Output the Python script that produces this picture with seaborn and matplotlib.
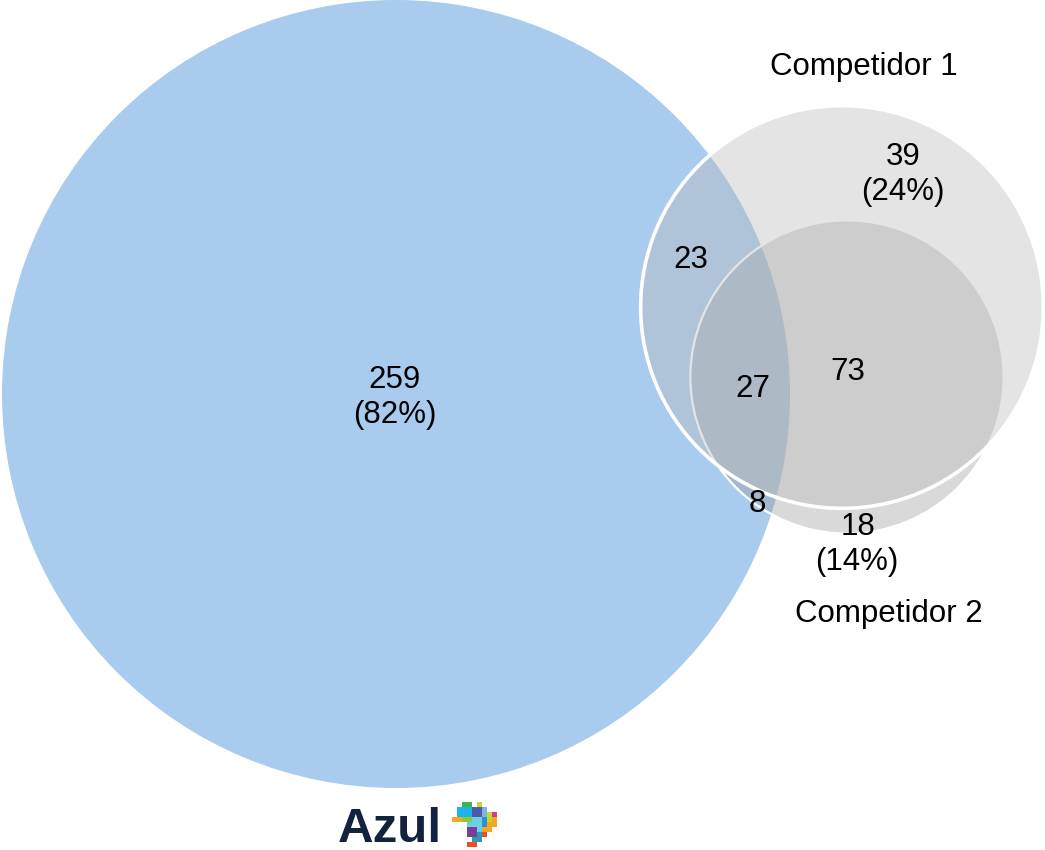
import numpy as np
import matplotlib
matplotlib.use("Agg")
import matplotlib.pyplot as plt
from matplotlib.patches import Circle
from matplotlib.colors import to_rgba
import seaborn as sns

# ---------------- data ----------------
set_names = ["Azul", "Competidor 1", "Competidor 2"]
only_azul = 259
only_c1 = 39
only_c2 = 18
azul_c1 = 23
azul_c2 = 8
c1_c2 = 73
all_three = 27

total_azul = only_azul + azul_c1 + azul_c2 + all_three
total_c1 = only_c1 + azul_c1 + c1_c2 + all_three
total_c2 = only_c2 + azul_c2 + c1_c2 + all_three

# ---------------- style ----------------
sns.set_theme(style="white")
plt.rcParams["font.family"] = ["Liberation Sans", "DejaVu Sans"]

fig = plt.figure(figsize=(10.45, 8.5), dpi=100)
ax = fig.add_axes([0, 0, 1, 1])
ax.set_xlim(0, 1045)
ax.set_ylim(850, 0)
ax.set_aspect("equal")
ax.axis("off")

# radius proportional to set total (as in reference)
k = 394.0 / total_azul
r_azul, r_c1, r_c2 = total_azul * k, total_c1 * k, total_c2 * k

ax.add_patch(Circle((396, 394), r_azul, facecolor="#A9CBED", edgecolor="none", zorder=1))
ax.add_patch(Circle((847, 377), r_c2, facecolor=to_rgba("#9C9C9C", 0.385),
                    edgecolor="white", linewidth=1.6, zorder=2))
ax.add_patch(Circle((842, 307), r_c1, facecolor=to_rgba("#BBBBBB", 0.395),
                    edgecolor="white", linewidth=2.6, zorder=3))

fs = 22.5
def t(x, y, s, **kw):
    ax.text(x, y, s, ha="center", va="baseline", fontsize=fs, color="black", zorder=5, **kw)

pct = lambda v, tot: f"({round(v / tot * 100):.0f}%)"

t(395, 388, f"{only_azul}")
t(395, 423, pct(only_azul, total_azul))
t(903, 165, f"{only_c1}")
t(903, 200, pct(only_c1, total_c1))
t(858, 535, f"{only_c2}")
t(857, 570, pct(only_c2, total_c2))
t(691, 268, f"{azul_c1}")
t(753, 397, f"{all_three}")
t(848, 380, f"{c1_c2}")
t(757, 512, f"{azul_c2}")
t(864, 75, set_names[1])
t(889, 622, set_names[2])

# ---------------- logo ----------------
ax.text(338, 842, set_names[0], ha="left", va="baseline", fontsize=35.5,
        fontweight="heavy", color="#13233F", zorder=5)

logo_rows = [
    "..GG.Y...",
    ".CCCIIL..",
    ".CCCIILYM",
    "OOggTTBYO",
    "...TTTBOO",
    "...PPTOO.",
    "...PPKR..",
    "....KK...",
    "...RR....",
]
cmap = {"G": "#3CB54A", "Y": "#C8D630", "C": "#1BB5E8", "I": "#4B5AA8",
        "L": "#7FB3E0", "M": "#D23C8C", "O": "#F5A623", "g": "#8DC63F",
        "T": "#6DCFE6", "B": "#2E8FD0", "P": "#7B3F98", "R": "#EE4B2B",
        "K": "#2D9BB0"}
img = np.zeros((len(logo_rows), len(logo_rows[0]), 4))
for i, row in enumerate(logo_rows):
    for j, ch in enumerate(row):
        if ch in cmap:
            img[i, j] = to_rgba(cmap[ch])
ax.imshow(img, extent=(452, 497, 847, 802), interpolation="nearest", zorder=5)
ax.set_xlim(0, 1045)
ax.set_ylim(850, 0)

fig.savefig("out.png", dpi=100, facecolor="white")
